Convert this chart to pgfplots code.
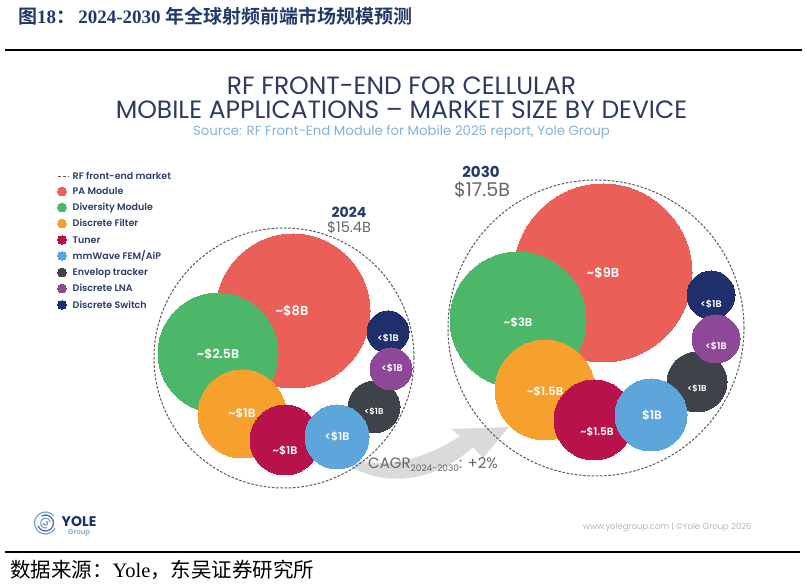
\documentclass[border=0pt]{standalone}
\usepackage{pgfplots}
\pgfplotsset{compat=1.18}
\usepackage{pgfplotstable}
\usepackage{fontspec}
\setmainfont{Poppins}
\IfFontExistsTF{Poppins SemiBold}{\newfontfamily\semib{Poppins SemiBold}}{\newcommand\semib{\bfseries}}
\IfFontExistsTF{Poppins Light}{\newfontfamily\light{Poppins Light}}{\newcommand\light{}}
\newfontfamily\cjk{Noto Sans CJK SC}
\IfFontExistsTF{Noto Sans CJK SC Bold}{\newfontfamily\cjkb{Noto Sans CJK SC Bold}}{\newfontfamily\cjkb{Noto Sans CJK SC}[FakeBold=2]}
\newfontfamily\tnr{Liberation Serif}

\definecolor{cPA}{HTML}{EA5F58}
\definecolor{cDiv}{HTML}{4CB768}
\definecolor{cFil}{HTML}{F6A12E}
\definecolor{cTun}{HTML}{B7124B}
\definecolor{cMmw}{HTML}{5DA6DC}
\definecolor{cEnv}{HTML}{3E4249}
\definecolor{cLna}{HTML}{8D4898}
\definecolor{cSw}{HTML}{1F2F6C}
\definecolor{navy}{HTML}{2E3A5F}
\definecolor{legtext}{HTML}{2F3D68}
\definecolor{titleblue}{HTML}{233A68}
\definecolor{srcblue}{HTML}{86B3D6}
\definecolor{ringgray}{HTML}{5A5A5A}
\definecolor{valgray}{HTML}{666666}
\definecolor{arrowgray}{HTML}{DADADA}
\definecolor{yoleblue}{HTML}{7EA9CF}

% bubble centres and radii (pt), 2024 market
\pgfplotstableread{
x y r dev
293 311 77 pa
218 353 60 div
242 414 44 fil
285 440 35 tun
374 407 26 env
337 437 32 mmw
388 332 21 sw
391 369 21 lna
}\bubblesA

% bubble centres and radii (pt), 2030 market
\pgfplotstableread{
x y r dev
603 273 89 pa
518 320 68 div
545 390 50 fil
594 420 40 tun
697 382 30 env
651 415 36 mmw
711 295 24 sw
716 339 24 lna
}\bubblesB

% total-market rings
\pgfplotstableread{
x y r dev
284 358 130 ring
596 328 148 ring
}\rings

% legend swatches
\pgfplotstableread{
y dev
191.5 pa
207.5 div
223.5 fil
240 tun
256 mmw
272.5 env
288.5 lna
305 sw
}\legtab

\pgfplotsset{
  bubble/.style={
    scatter, only marks, mark=*,
    scatter src=explicit symbolic,
    scatter/classes={
      pa={mark=*,draw=cPA,fill=cPA,line width=0pt},
      div={mark=*,draw=cDiv,fill=cDiv,line width=0pt},
      fil={mark=*,draw=cFil,fill=cFil,line width=0pt},
      tun={mark=*,draw=cTun,fill=cTun,line width=0pt},
      mmw={mark=*,draw=cMmw,fill=cMmw,line width=0pt},
      env={mark=*,draw=cEnv,fill=cEnv,line width=0pt},
      lna={mark=*,draw=cLna,fill=cLna,line width=0pt},
      sw={mark=*,draw=cSw,fill=cSw,line width=0pt},
      ring={mark=o,draw=ringgray,fill=none,line width=1pt,dash pattern=on 2.6pt off 1.6pt}
    },
  },
  radius from table/.style={
    visualization depends on={\thisrow{r} \as \rad},
    scatter/@pre marker code/.append style={/tikz/mark size=\rad pt},
  },
}

\newcommand\fs[1]{\fontsize{#1}{#1}\selectfont}
\newcommand\tl{\textasciitilde}

\begin{document}
\begin{tikzpicture}
\begin{axis}[
  width=805pt, height=585pt, scale only axis,
  xmin=0, xmax=805, ymin=0, ymax=585, y dir=reverse,
  hide axis, clip=false, set layers,
]
\fill[white] (axis cs:0,0) rectangle (axis cs:805,585);

% report heading and rules
\node[anchor=base west, text=titleblue, inner sep=0pt] at (axis cs:18,24)
  {\fs{19}{\cjkb 图}{\tnr\bfseries 18}{\cjkb ：}{\tnr\bfseries\,2024-2030 }{\cjkb 年全球射频前端市场规模预测}};
\draw[black, line width=1.4pt] (axis cs:5,50) -- (axis cs:802,50);
\draw[black, line width=1.4pt] (axis cs:5,552) -- (axis cs:800,552);
\node[anchor=base west, inner sep=0pt] at (axis cs:10,578)
  {\fs{20.5}{\cjk 数据来源：}{\tnr Yole}{\cjk ，东吴证券研究所}};

% chart heading
\node[anchor=base, text=navy, inner sep=0pt] at (axis cs:401.5,95) {\fs{25}RF FRONT-END FOR CELLULAR};
\node[anchor=base, text=navy, inner sep=0pt] at (axis cs:401.5,119) {\fs{25}MOBILE APPLICATIONS – MARKET SIZE BY DEVICE};
\node[anchor=base, text=srcblue, inner sep=0pt] at (axis cs:401.5,136) {\fs{13.3}Source: RF Front-End Module for Mobile 2025 report, Yole Group};

% growth arrow
\fill[arrowgray] (axis cs:350,458) .. controls (axis cs:380,470) and (axis cs:425,460) .. (axis cs:460,436)
  -- (axis cs:451,429) -- (axis cs:509,427) -- (axis cs:483,458) -- (axis cs:473,447)
  .. controls (axis cs:440,478) and (axis cs:390,490) .. (axis cs:350,466) -- cycle;

% market rings and device bubbles
\addplot[bubble, radius from table] table[x=x, y=y, meta=dev] {\rings};
\addplot[bubble, radius from table] table[x=x, y=y, meta=dev] {\bubblesA};
\addplot[bubble, radius from table] table[x=x, y=y, meta=dev] {\bubblesB};

% legend
\draw[ringgray, line width=1pt, dash pattern=on 3pt off 2pt] (axis cs:57.5,176.5) -- (axis cs:68,176.5);
\addplot[bubble, mark size=4.4pt] table[x expr=62, y=y, meta=dev] {\legtab};

\begin{pgfonlayer}{axis foreground}
\begin{scope}[every node/.style={anchor=base west, inner sep=0pt, text=legtext, font=\semib\fs{9.5}}]
\node at (axis cs:72.5,179.5) {RF front-end market};
\node at (axis cs:72.5,195) {PA Module};
\node at (axis cs:72.5,211) {Diversity Module};
\node at (axis cs:72.5,227) {Discrete Filter};
\node at (axis cs:72.5,243.5) {Tuner};
\node at (axis cs:72.5,259.5) {mmWave FEM/AiP};
\node at (axis cs:72.5,276) {Envelop tracker};
\node at (axis cs:72.5,292) {Discrete LNA};
\node at (axis cs:72.5,308.5) {Discrete Switch};
\end{scope}

% year totals
\node[text=titleblue, inner sep=0pt] at (axis cs:349,212) {\bfseries\fs{14}2024};
\node[text=valgray, inner sep=0pt] at (axis cs:349,227) {\fs{14.5}\$15.4B};
\node[text=titleblue, inner sep=0pt] at (axis cs:481,172) {\bfseries\fs{15}2030};
\node[text=valgray, inner sep=0pt] at (axis cs:482,190) {\fs{19}\$17.5B};

% bubble values
\begin{scope}[every node/.style={text=white, inner sep=0pt, font=\semib}]
\node at (axis cs:292,311) {\fs{13}\tl\$8B};
\node at (axis cs:218,354) {\fs{12.5}\tl\$2.5B};
\node at (axis cs:242,413) {\fs{12}\tl\$1B};
\node at (axis cs:285,451) {\fs{11}\tl\$1B};
\node at (axis cs:337,437) {\fs{11}<\$1B};
\node at (axis cs:374,412) {\fs{8.5}<\$1B};
\node at (axis cs:392,368) {\fs{9.5}<\$1B};
\node at (axis cs:388,338) {\fs{9.5}<\$1B};
\node at (axis cs:603,273) {\fs{13}\tl\$9B};
\node at (axis cs:518,322) {\fs{11.5}\tl\$3B};
\node at (axis cs:545,391) {\fs{11.5}\tl\$1.5B};
\node at (axis cs:597,432) {\fs{10.5}\tl\$1.5B};
\node at (axis cs:652,415) {\fs{12}\$1B};
\node at (axis cs:697,389) {\fs{8.5}<\$1B};
\node at (axis cs:716,346) {\fs{9.5}<\$1B};
\node at (axis cs:711,304) {\fs{9.5}<\$1B};
\end{scope}

% growth rate
\node[anchor=base west, text=valgray, inner sep=0pt] at (axis cs:368,469)
  {\fs{15}CAGR\raisebox{-3pt}{\fs{9}2024-2030}: +2\%};

% Yole mark and footer
\path (axis cs:45.5,523) coordinate (logo);
\draw[yoleblue, line width=1.3pt] (logo) ++(40:11pt) arc[start angle=40, end angle=330, radius=11pt];
\draw[cSw!70, line width=1.3pt] (logo) ++(200:8pt) arc[start angle=200, end angle=480, radius=8pt];
\draw[yoleblue, line width=1.2pt] (logo) ++(10:5pt) arc[start angle=10, end angle=290, radius=5pt];
\draw[cSw!60, line width=1pt] (logo) ++(180:2.2pt) arc[start angle=180, end angle=420, radius=2.2pt];
\node[anchor=base west, text=cSw, inner sep=0pt] at (axis cs:61.5,527) {\bfseries\fs{14}YOLE};
\node[anchor=base west, text=yoleblue, inner sep=0pt] at (axis cs:68,535) {\semib\fs{7}Group};
\node[anchor=base west, text=gray!70, inner sep=0pt] at (axis cs:583,530) {\light\fs{8.5}www.yolegroup.com | ©Yole Group 2025};
\end{pgfonlayer}
\end{axis}
\pgfresetboundingbox
\useasboundingbox (current axis.south west) rectangle (current axis.north east);
\end{tikzpicture}
\end{document}
